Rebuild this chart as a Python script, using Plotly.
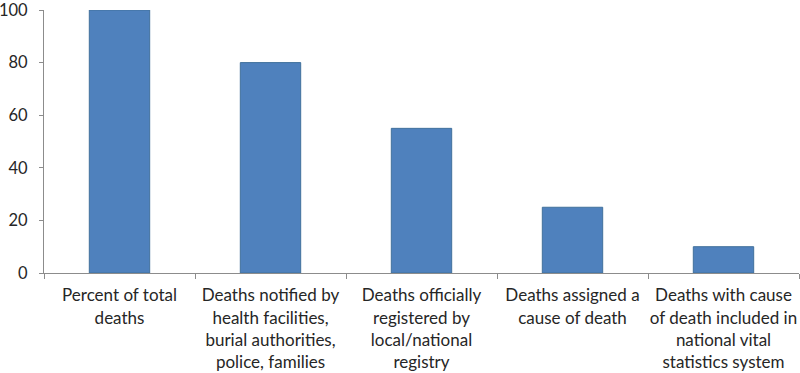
import plotly.graph_objects as go

categories = [
    "Percent of total<br>deaths",
    "Deaths notified by<br>health facilities,<br>burial authorities,<br>police, families",
    "Deaths officially<br>registered by<br>local/national<br>registry",
    "Deaths assigned a<br>cause of death",
    "Deaths with cause<br>of death included in<br>national vital<br>statistics system",
]
values = [100, 80, 55, 25, 10]
y_ticks = [0, 20, 40, 60, 80, 100]

fig = go.Figure(go.Bar(
    x=categories, y=values,
    marker=dict(color="#4F81BD", line=dict(color="#41719C", width=1)),
))
fig.update_layout(
    width=800, height=373,
    margin=dict(l=44, r=1, t=10, b=100),
    paper_bgcolor="white", plot_bgcolor="white",
    bargap=0.6,
    showlegend=False,
    font=dict(family="Lato", size=17, color="#262626"),
)
fig.update_xaxes(
    showline=True, linecolor="#8C8C8C", linewidth=1,
    ticks="outside", tickson="boundaries", ticklen=5, tickcolor="#8C8C8C",
    showgrid=False, tickangle=0, automargin=False,
    ticklabelstandoff=7,
)
fig.update_yaxes(
    range=[0, 100], tickvals=y_ticks,
    showline=True, linecolor="#8C8C8C", linewidth=1,
    ticks="outside", ticklen=4, tickcolor="#8C8C8C",
    showgrid=False, zeroline=False, automargin=False,
    ticklabeloverflow="allow", tickfont=dict(size=16.5),
    ticklabelstandoff=8,
)
fig.write_html(
    "out.html",
    config={"displayModeBar": False},
    post_script="document.body.style.margin='0';document.body.style.overflow='hidden';",
)
